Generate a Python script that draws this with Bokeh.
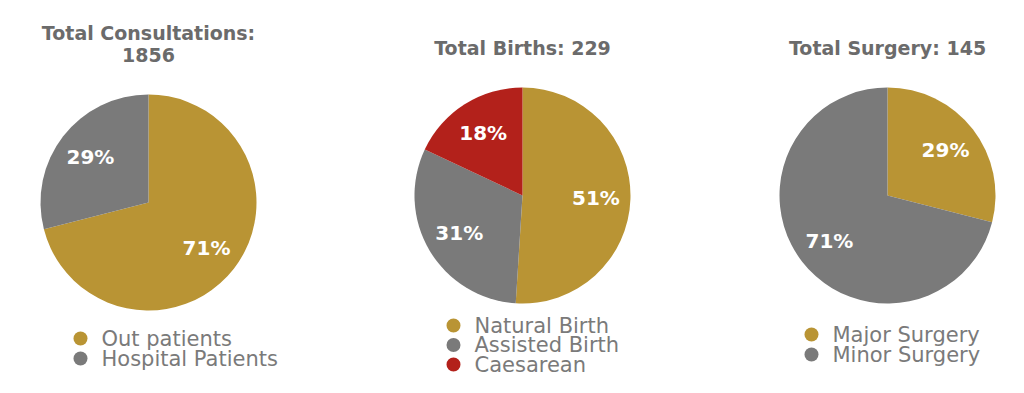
import numpy as np
from bokeh.plotting import figure
from bokeh.models import Range1d, ColumnDataSource
from bokeh.core.properties import value
from bokeh.embed import file_html
from bokeh.resources import INLINE

# ---- data ----
titles = ["Total Consultations:", "Total Births:", "Total Surgery:"]
totals = [1856, 229, 145]
consult_labels = ["Out patients", "Hospital Patients"]
consult_values = [71, 29]
birth_labels = ["Natural Birth", "Assisted Birth", "Caesarean"]
birth_values = [51, 31, 18]
surgery_labels = ["Major Surgery", "Minor Surgery"]
surgery_values = [29, 71]

GOLD = "#B99434"
GRAY = "#7A7A7A"
RED = "#B3211B"
TITLE_C = "#6B6B6B"
LEG_C = "#7A7A7A"
FONT = "DejaVu Sans"

W, H = 1008, 377
p = figure(width=W, height=H, output_backend="svg", toolbar_location=None,
           x_range=Range1d(0, W), y_range=Range1d(0, H), min_border=0)
p.axis.visible = False
p.grid.visible = False
p.outline_line_color = None
p.background_fill_color = "white"


def sx(x):
    return x


def sy(y):
    return H - y


charts = [
    dict(labels=consult_labels, values=consult_values, colors=[GOLD, GRAY],
         cx=148, cy=202, title_lines=[titles[0], str(totals[0])], title_y=[32, 54],
         leg_x=80, leg_y0=338, leg_dy=20),
    dict(labels=birth_labels, values=birth_values, colors=[GOLD, GRAY, RED],
         cx=522, cy=195, title_lines=[f"{titles[1]} {totals[1]}"], title_y=[47],
         leg_x=453, leg_y0=325, leg_dy=19.5),
    dict(labels=surgery_labels, values=surgery_values, colors=[GOLD, GRAY],
         cx=887, cy=195, title_lines=[f"{titles[2]} {totals[2]}"], title_y=[47],
         leg_x=811, leg_y0=334, leg_dy=20),
]
R = 108

for c in charts:
    vals = np.array(c["values"], dtype=float)
    frac = vals / vals.sum()
    ends = np.cumsum(frac)
    starts = ends - frac
    start_a = np.pi / 2 - starts * 2 * np.pi
    end_a = np.pi / 2 - ends * 2 * np.pi
    mid_a = (start_a + end_a) / 2
    n = len(vals)
    src = ColumnDataSource(dict(
        x=[sx(c["cx"])] * n, y=[sy(c["cy"])] * n,
        start=list(start_a), end=list(end_a), color=c["colors"],
        lx=list(sx(c["cx"]) + 0.68 * R * np.cos(mid_a)),
        ly=list(sy(c["cy"]) + 0.68 * R * np.sin(mid_a)),
        pct=[f"{int(v)}%" for v in vals],
        legx=[sx(c["leg_x"])] * n,
        legtx=[sx(c["leg_x"]) + 21] * n,
        legy=[sy(c["leg_y0"] + i * c["leg_dy"]) for i in range(n)],
        label=c["labels"],
    ))
    p.wedge(x="x", y="y", radius=R, start_angle="start", end_angle="end",
            direction="clock", fill_color="color", line_color=None, source=src)
    p.text(x="lx", y="ly", text="pct", text_color="white",
           text_font=value(FONT), text_font_style="bold", text_font_size="20px",
           text_align="center", text_baseline="middle", source=src)
    p.scatter(x="legx", y="legy", size=14, fill_color="color", line_color=None,
              source=src)
    p.text(x="legtx", y="legy", text="label", text_color=LEG_C,
           text_font=value(FONT), text_font_size="21px",
           text_align="left", text_baseline="middle", source=src)
    tsrc = ColumnDataSource(dict(x=[sx(c["cx"])] * len(c["title_lines"]),
                                 y=[sy(t) for t in c["title_y"]],
                                 t=c["title_lines"]))
    p.text(x="x", y="y", text="t", text_color=TITLE_C, text_font=value(FONT),
           text_font_style="bold", text_font_size="19px",
           text_align="center", text_baseline="middle", source=tsrc)

open("out.html", "w").write(file_html(p, INLINE))
